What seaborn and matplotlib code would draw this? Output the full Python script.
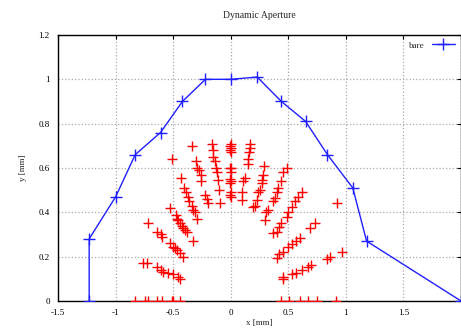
import numpy as np
import pandas as pd
import seaborn as sns
import matplotlib.pyplot as plt
from matplotlib.ticker import FuncFormatter, MultipleLocator

# boundary of the dynamic aperture ("bare")
bare_x = [-1.23, -1.23, -1.0, -0.83, -0.61, -0.42, -0.22, 0.0, 0.23, 0.44, 0.65, 0.84, 1.06, 1.18, 2.0]
bare_y = [0.0, 0.28, 0.47, 0.66, 0.76, 0.90, 1.00, 1.00, 1.01, 0.90, 0.81, 0.66, 0.51, 0.27, 0.0]

# tracked particles that survived (red crosses)
pts_x = [
    -0.34, -0.51,
    -0.43, -0.41, -0.39, -0.37, -0.36, -0.34, -0.33, -0.31, -0.29,
    -0.30, -0.29, -0.28, -0.26, -0.26, -0.225, -0.21, -0.20,
    -0.16, -0.155, -0.15, -0.14, -0.13, -0.12, -0.11, -0.10, -0.095,
    -0.53, -0.48, -0.47, -0.46, -0.44, -0.42, -0.415, -0.40, -0.38, -0.33,
    -0.72, -0.64, -0.61, -0.60,
    -0.53, -0.50, -0.485, -0.47, -0.44, -0.415,
    -0.76, -0.73, -0.64, -0.61, -0.59, -0.545, -0.50, -0.46, -0.44,
    -0.83, -0.745, -0.72, -0.64, -0.60, -0.51, -0.50, -0.44,
    0.44, 0.51, 0.60, 0.67, 0.745, 0.91,
    0.0, 0.0, 0.0, 0.0, 0.0, 0.0, 0.0, 0.0,
    -0.01, -0.01, -0.01, -0.01, -0.01, -0.01,
    0.165, 0.165, 0.155, 0.15, 0.15, 0.12, 0.11, 0.10, 0.10, 0.21, 0.19,
    0.29, 0.28, 0.275, 0.27, 0.25, 0.24, 0.225,
    0.485, 0.45, 0.44, 0.41, 0.40, 0.38, 0.365,
    0.62, 0.58, 0.555, 0.53, 0.495, 0.485,
    0.32, 0.31, 0.295,
    0.44, 0.42, 0.40, 0.365,
    0.92,
    0.73, 0.685,
    0.60, 0.57, 0.53, 0.495, 0.45, 0.42, 0.40,
    0.97, 0.86, 0.84,
    0.70, 0.67, 0.615, 0.57, 0.53, 0.45, 0.45,
]
pts_y = [
    0.70, 0.64,
    0.555, 0.51, 0.49, 0.47, 0.45, 0.43, 0.41, 0.40, 0.37,
    0.63, 0.60, 0.59, 0.57, 0.54, 0.48, 0.46, 0.44,
    0.71, 0.68, 0.65, 0.63, 0.60, 0.58, 0.545, 0.50, 0.44,
    0.42, 0.39, 0.37, 0.365, 0.35, 0.34, 0.33, 0.32, 0.31, 0.27,
    0.35, 0.31, 0.30, 0.29,
    0.26, 0.245, 0.24, 0.23, 0.215, 0.20,
    0.17, 0.17, 0.155, 0.14, 0.13, 0.125, 0.12, 0.11, 0.10,
    0.0, 0.0, 0.0, 0.0, 0.0, 0.0, 0.0, 0.0,
    0.0, 0.0, 0.0, 0.0, 0.0, 0.0,
    0.71, 0.69, 0.67, 0.60, 0.58, 0.54, 0.49, 0.47,
    0.70, 0.68, 0.60, 0.55, 0.53, 0.48,
    0.71, 0.69, 0.67, 0.64, 0.62, 0.555, 0.54, 0.49, 0.455, 0.43, 0.425,
    0.61, 0.57, 0.545, 0.53, 0.50, 0.49, 0.455,
    0.60, 0.58, 0.54, 0.51, 0.49, 0.465, 0.45,
    0.49, 0.47, 0.45, 0.425, 0.40, 0.38,
    0.41, 0.40, 0.365,
    0.35, 0.335, 0.31, 0.305,
    0.44,
    0.35, 0.33,
    0.285, 0.27, 0.255, 0.245, 0.22, 0.21, 0.195,
    0.22, 0.20, 0.19,
    0.16, 0.155, 0.14, 0.125, 0.12, 0.11, 0.10,
]

df_bare = pd.DataFrame({'x': bare_x, 'y': bare_y})
df_pts = pd.DataFrame({'x': pts_x, 'y': pts_y})

sns.set_style("white")
plt.rcParams['font.family'] = ['Liberation Serif', 'DejaVu Serif']

fig = plt.figure(figsize=(4.61, 3.30), dpi=100)
ax = fig.add_axes([0.126, 0.088, 0.874, 0.806])

sns.scatterplot(data=df_pts, x='x', y='y', ax=ax, marker='+', s=45,
                color='#ff0000', linewidth=1.0, zorder=3, legend=False)
sns.lineplot(data=df_bare, x='x', y='y', ax=ax, sort=False, estimator=None,
             color='#2020ff', linewidth=1.0, marker='+', markersize=8,
             markeredgewidth=1.0, markeredgecolor='#2020ff', label='bare', zorder=4)

ax.set_xlim(-1.5, 2.0)
ax.set_ylim(0, 1.2)
ax.xaxis.set_major_locator(MultipleLocator(0.5))
ax.yaxis.set_major_locator(MultipleLocator(0.2))
# the label at the right edge (x=2) is cut off in the original, leave it out
ax.xaxis.set_major_formatter(FuncFormatter(lambda v, p: '' if v > 1.9 else '%g' % round(v, 3)))
ax.yaxis.set_major_formatter(FuncFormatter(lambda v, p: '%g' % round(v, 3)))
ax.grid(True, color='#aaaaaa', linestyle=':', linewidth=0.9)
ax.tick_params(direction='in', length=3, width=0.8, labelsize=6.5,
               top=True, right=True, colors='black', pad=6)
for s in ax.spines.values():
    s.set_color('black')
    s.set_linewidth(1.0)

ax.set_title('Dynamic Aperture', fontsize=7, pad=12)
ax.set_xlabel('x [mm]', fontsize=6.5, labelpad=1)
ax.set_ylabel('y [mm]', fontsize=6.5, labelpad=8)

ax.legend(loc='upper right', frameon=False, markerfirst=False, fontsize=6.5,
          handlelength=2.5, borderaxespad=0.3)

fig.savefig('out.png', dpi=100)
